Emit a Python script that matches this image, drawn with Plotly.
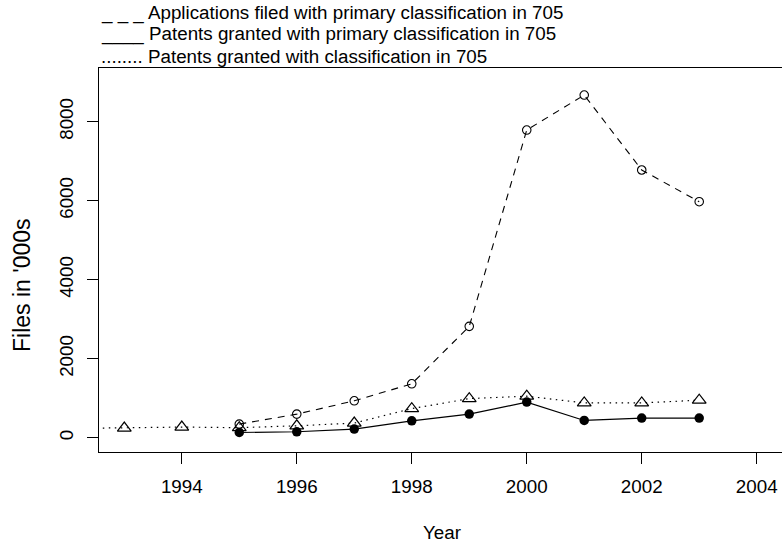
import plotly.graph_objects as go

# ---- data ----
years_applications = [1995, 1996, 1997, 1998, 1999, 2000, 2001, 2002, 2003]
applications_primary = [346, 599, 936, 1366, 2820, 7790, 8675, 6778, 5976]

years_granted_primary = [1995, 1996, 1997, 1998, 1999, 2000, 2001, 2002, 2003]
granted_primary = [134, 152, 220, 430, 599, 903, 438, 498, 498]

years_granted_class = [1992, 1993, 1994, 1995, 1996, 1997, 1998, 1999, 2000, 2001, 2002, 2003]
granted_class = [235, 245, 271, 255, 303, 372, 738, 991, 1052, 883, 883, 951]

x_ticks = [1994, 1996, 1998, 2000, 2002, 2004]
y_ticks = [0, 2000, 4000, 6000, 8000]

legend_lines = [
    "_ _ _ Applications filed with primary classification in 705",
    "____ Patents granted with primary classification in 705",
    "........ Patents granted with classification in 705",
]

FONT = "Liberation Sans, Arial, Helvetica, sans-serif"
FS = 18.8
W, H = 782, 546
L, R, T, B = 99, 0, 68, 94
PW, PH = W - L - R, H - T - B


def px_x(px):
    return (px - L) / PW


def px_y(py):
    return (H - B - py) / PH


fig = go.Figure()

fig.add_trace(go.Scatter(
    x=years_applications, y=applications_primary, mode="lines+markers",
    line=dict(color="black", width=1.1, dash="7px,6px"),
    marker=dict(symbol="circle-open", size=8.5, color="black", line=dict(width=1.1)),
    showlegend=False,
))
fig.add_trace(go.Scatter(
    x=years_granted_class, y=granted_class, mode="lines+markers",
    line=dict(color="black", width=1.2, dash="1.5px,4.5px"),
    marker=dict(symbol="triangle-up-open", size=12, color="black", line=dict(width=1.2)),
    showlegend=False,
))
fig.add_trace(go.Scatter(
    x=years_granted_primary, y=granted_primary, mode="lines+markers",
    line=dict(color="black", width=1.2),
    marker=dict(symbol="circle", size=9.5, color="black"),
    showlegend=False,
))

annotations = []
row_y = [12.5, 34.3, 56.0]
for i in range(3):
    annotations.append(dict(
        text=legend_lines[i], x=px_x(99), y=px_y(row_y[i]), xref="paper", yref="paper",
        xanchor="left", yanchor="middle", showarrow=False,
        font=dict(family=FONT, size=FS, color="black"),
    ))

annotations.append(dict(
    text="Year", x=px_x(441.5), y=px_y(532), xref="paper", yref="paper",
    xanchor="center", yanchor="middle", showarrow=False,
    font=dict(family=FONT, size=FS, color="black"),
))
annotations.append(dict(
    text="Files in '000s", x=px_x(22), y=px_y(285), xref="paper", yref="paper",
    xanchor="center", yanchor="middle", showarrow=False, textangle=-90,
    font=dict(family=FONT, size=23, color="black"),
))

fig.update_layout(
    width=W, height=H,
    margin=dict(l=L, r=R, t=T, b=B, pad=0),
    paper_bgcolor="white", plot_bgcolor="white",
    font=dict(family=FONT, size=FS, color="black"),
    annotations=annotations,
    xaxis=dict(
        range=[1992.56, 2004.44], tickmode="array", tickvals=x_ticks,
        ticks="outside", ticklen=11, tickwidth=1, tickcolor="black",
        showline=True, linecolor="black", linewidth=1, mirror=True,
        showgrid=False, zeroline=False, ticklabelstandoff=6,
        tickfont=dict(family=FONT, size=FS, color="black"),
    ),
    yaxis=dict(
        range=[-360, 9360], tickmode="array", tickvals=y_ticks,
        ticks="outside", ticklen=11, tickwidth=1, tickcolor="black",
        showline=True, linecolor="black", linewidth=1, mirror=False,
        showgrid=False, zeroline=False, tickangle=-90, ticklabelstandoff=6,
        tickfont=dict(family=FONT, size=FS, color="black"),
    ),
)

fig.write_html(
    "out.html",
    config={"displayModeBar": False, "staticPlot": True},
    post_script="document.body.style.margin='0px';document.documentElement.style.overflow='hidden';",
)
